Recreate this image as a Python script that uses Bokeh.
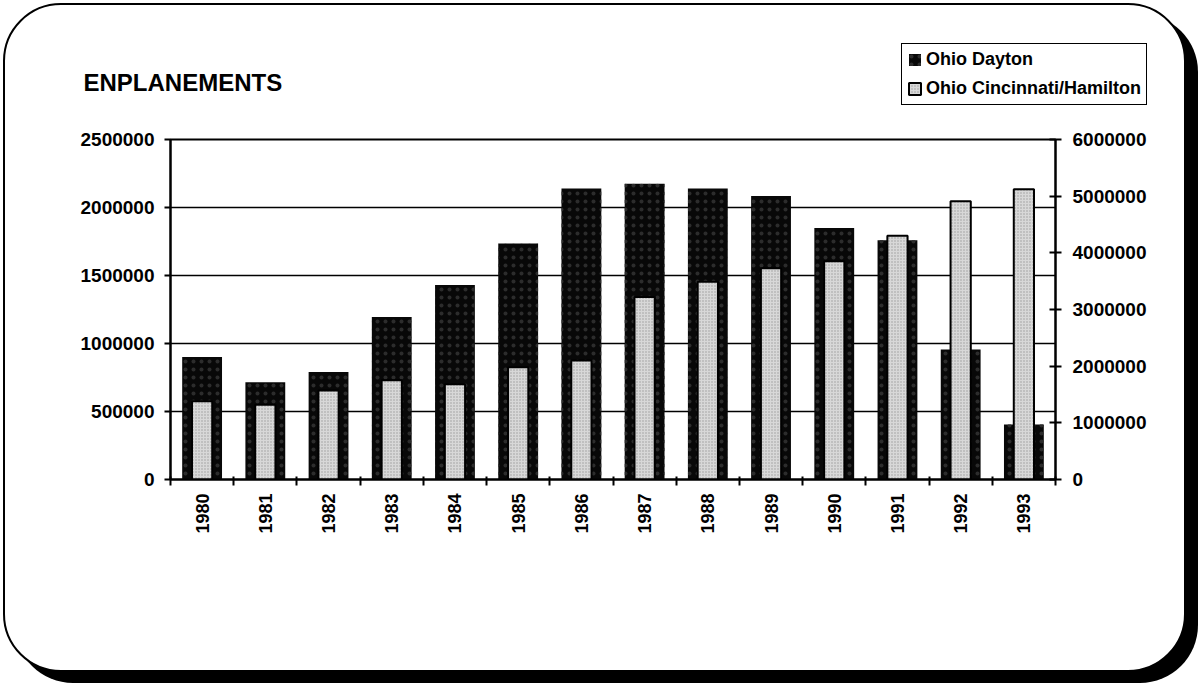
import math

from bokeh.plotting import figure
from bokeh.models import (Range1d, LinearAxis, FixedTicker, Legend,
                          LegendItem, NumeralTickFormatter, Label)
from bokeh.embed import file_html
from bokeh.resources import INLINE

# Annual enplanements, 1980-1993
years = [1980, 1981, 1982, 1983, 1984, 1985, 1986,
         1987, 1988, 1989, 1990, 1991, 1992, 1993]
dayton = [900000, 715000, 790000, 1195000, 1430000, 1735000, 2140000,
          2175000, 2140000, 2085000, 1850000, 1760000, 955000, 405000]
cincinnati = [1380000, 1320000, 1570000, 1750000, 1680000, 1980000, 2100000,
              3220000, 3490000, 3730000, 3850000, 4300000, 4910000, 5120000]

left_ticks = [0, 500000, 1000000, 1500000, 2000000, 2500000]
right_ticks = [0, 1000000, 2000000, 3000000, 4000000, 5000000, 6000000]

FONT = "Liberation Sans"
W = 1183
H = 669
HEAD_H = 130
HEAD_SHIFT = 20   # header strip starts this far left of the page edge

DAY_STYLE = dict(fill_color="#080808", line_color=None,
                 hatch_pattern=".", hatch_color="#2c2c2c", hatch_scale=8,
                 hatch_weight=1)
CIN_STYLE = dict(fill_color="#d8d8d8", line_color="black", line_width=2,
                 hatch_pattern=".", hatch_color="#9a9a9a", hatch_scale=3,
                 hatch_weight=1)

pos = list(range(len(years)))
bounds = [i - 0.5 for i in range(len(years) + 1)]

# ---- main chart ----
p = figure(width=W, height=H,
           x_range=Range1d(-0.5, len(years) - 0.5),
           y_range=Range1d(left_ticks[0], left_ticks[-1]),
           output_backend="svg", toolbar_location=None,
           min_border_left=165, min_border_right=133,
           min_border_top=134, min_border_bottom=195)
p.extra_y_ranges = {"right": Range1d(right_ticks[0], right_ticks[-1])}

p.background_fill_color = None
p.border_fill_color = None
p.outline_line_color = "black"
p.outline_line_width = 2
p.styles = {
    "border": "2px solid #000",
    "border-radius": "58px",
    "box-shadow": "12px 11px 0 0 #000",
    "background-color": "white",
    "margin-left": "3px",
    "margin-top": "3px",
}

# Dayton (left scale) behind, Cincinnati/Hamilton (right scale) in front
p.vbar(x=pos, top=dayton, width=0.63, bottom=0, **DAY_STYLE)
p.vbar(x=pos, top=cincinnati, width=0.32, bottom=0, y_range_name="right",
       **CIN_STYLE)

# x axis: labels under each year, tick marks between years
xa = p.xaxis[0]
xa.ticker = FixedTicker(ticks=pos, minor_ticks=bounds)
xa.major_label_overrides = {i: str(y) for i, y in zip(pos, years)}
xa.major_label_orientation = math.pi / 2
xa.major_tick_line_color = None
xa.major_tick_out = 0
xa.major_tick_in = 0
xa.minor_tick_line_color = "black"
xa.minor_tick_line_width = 2
xa.minor_tick_out = 6
xa.minor_tick_in = 3
xa.major_label_standoff = 8

ya = p.yaxis[0]
ya.ticker = FixedTicker(ticks=left_ticks)
ya.formatter = NumeralTickFormatter(format="0")
ya.minor_tick_line_color = None
ya.major_tick_out = 6
ya.major_tick_in = 0
ya.major_tick_line_width = 2
ya.major_label_standoff = 10

ra = LinearAxis(y_range_name="right", ticker=FixedTicker(ticks=right_ticks),
                formatter=NumeralTickFormatter(format="0"))
ra.minor_tick_line_color = None
ra.major_tick_out = 6
ra.major_tick_in = 6
ra.major_tick_line_width = 2
ra.major_label_standoff = 11
p.add_layout(ra, "right")

for ax in (xa, ya, ra):
    ax.axis_line_color = "black"
    ax.axis_line_width = 2
    ax.major_label_text_font = FONT
    ax.major_label_text_font_style = "bold"
    ax.major_label_text_color = "black"
    ax.major_label_text_font_size = "19px"
xa.major_label_text_font_size = "18px"

p.xgrid.visible = False
p.ygrid.ticker = FixedTicker(ticks=left_ticks)
p.ygrid.grid_line_color = "black"
p.ygrid.grid_line_width = 1.6

# ---- header strip laid over the top of the chart: title and legend ----
# its x range lies just past the bar positions, so the key renderers
# below only feed the legend; the strip begins off the page on the left
head = figure(width=W + HEAD_SHIFT, height=HEAD_H,
              x_range=Range1d(len(years) + 1, len(years) + 2),
              y_range=Range1d(right_ticks[0], right_ticks[-1]),
              output_backend="svg", toolbar_location=None,
              min_border=0, min_border_left=0, min_border_right=0,
              min_border_top=0, min_border_bottom=0)
head.axis.visible = False
head.grid.visible = False
head.outline_line_color = None
head.background_fill_color = None
head.border_fill_color = None
head.styles = {"position": "absolute", "left": f"{5 - HEAD_SHIFT}px",
               "top": "5px", "z-index": "5"}

head.add_layout(Label(x=78 + HEAD_SHIFT, y=53, x_units="screen",
                      y_units="screen",
                      text="ENPLANEMENTS", text_font=FONT,
                      text_font_style="bold", text_font_size="24px",
                      text_color="black", text_baseline="alphabetic"))

key_day = head.vbar(x=pos, top=dayton, width=0.63, **DAY_STYLE)
key_cin = head.vbar(x=pos, top=cincinnati, width=0.32, **CIN_STYLE)
legend = Legend(items=[LegendItem(label="Ohio Dayton", renderers=[key_day]),
                       LegendItem(label="Ohio Cincinnati/Hamilton",
                                  renderers=[key_cin])],
                location=(896 + HEAD_SHIFT, 30))
legend.label_text_font = FONT
legend.label_text_font_style = "bold"
legend.label_text_font_size = "18px"
legend.label_text_color = "black"
legend.glyph_width = 15
legend.glyph_height = 15
legend.label_standoff = 4
legend.padding = 5
legend.spacing = 8
legend.margin = 0
legend.border_line_color = "black"
legend.border_line_alpha = 1
legend.border_line_width = 1
legend.background_fill_color = "white"
legend.background_fill_alpha = 1
head.add_layout(legend)

open("out.html", "w").write(file_html([p, head], INLINE))
